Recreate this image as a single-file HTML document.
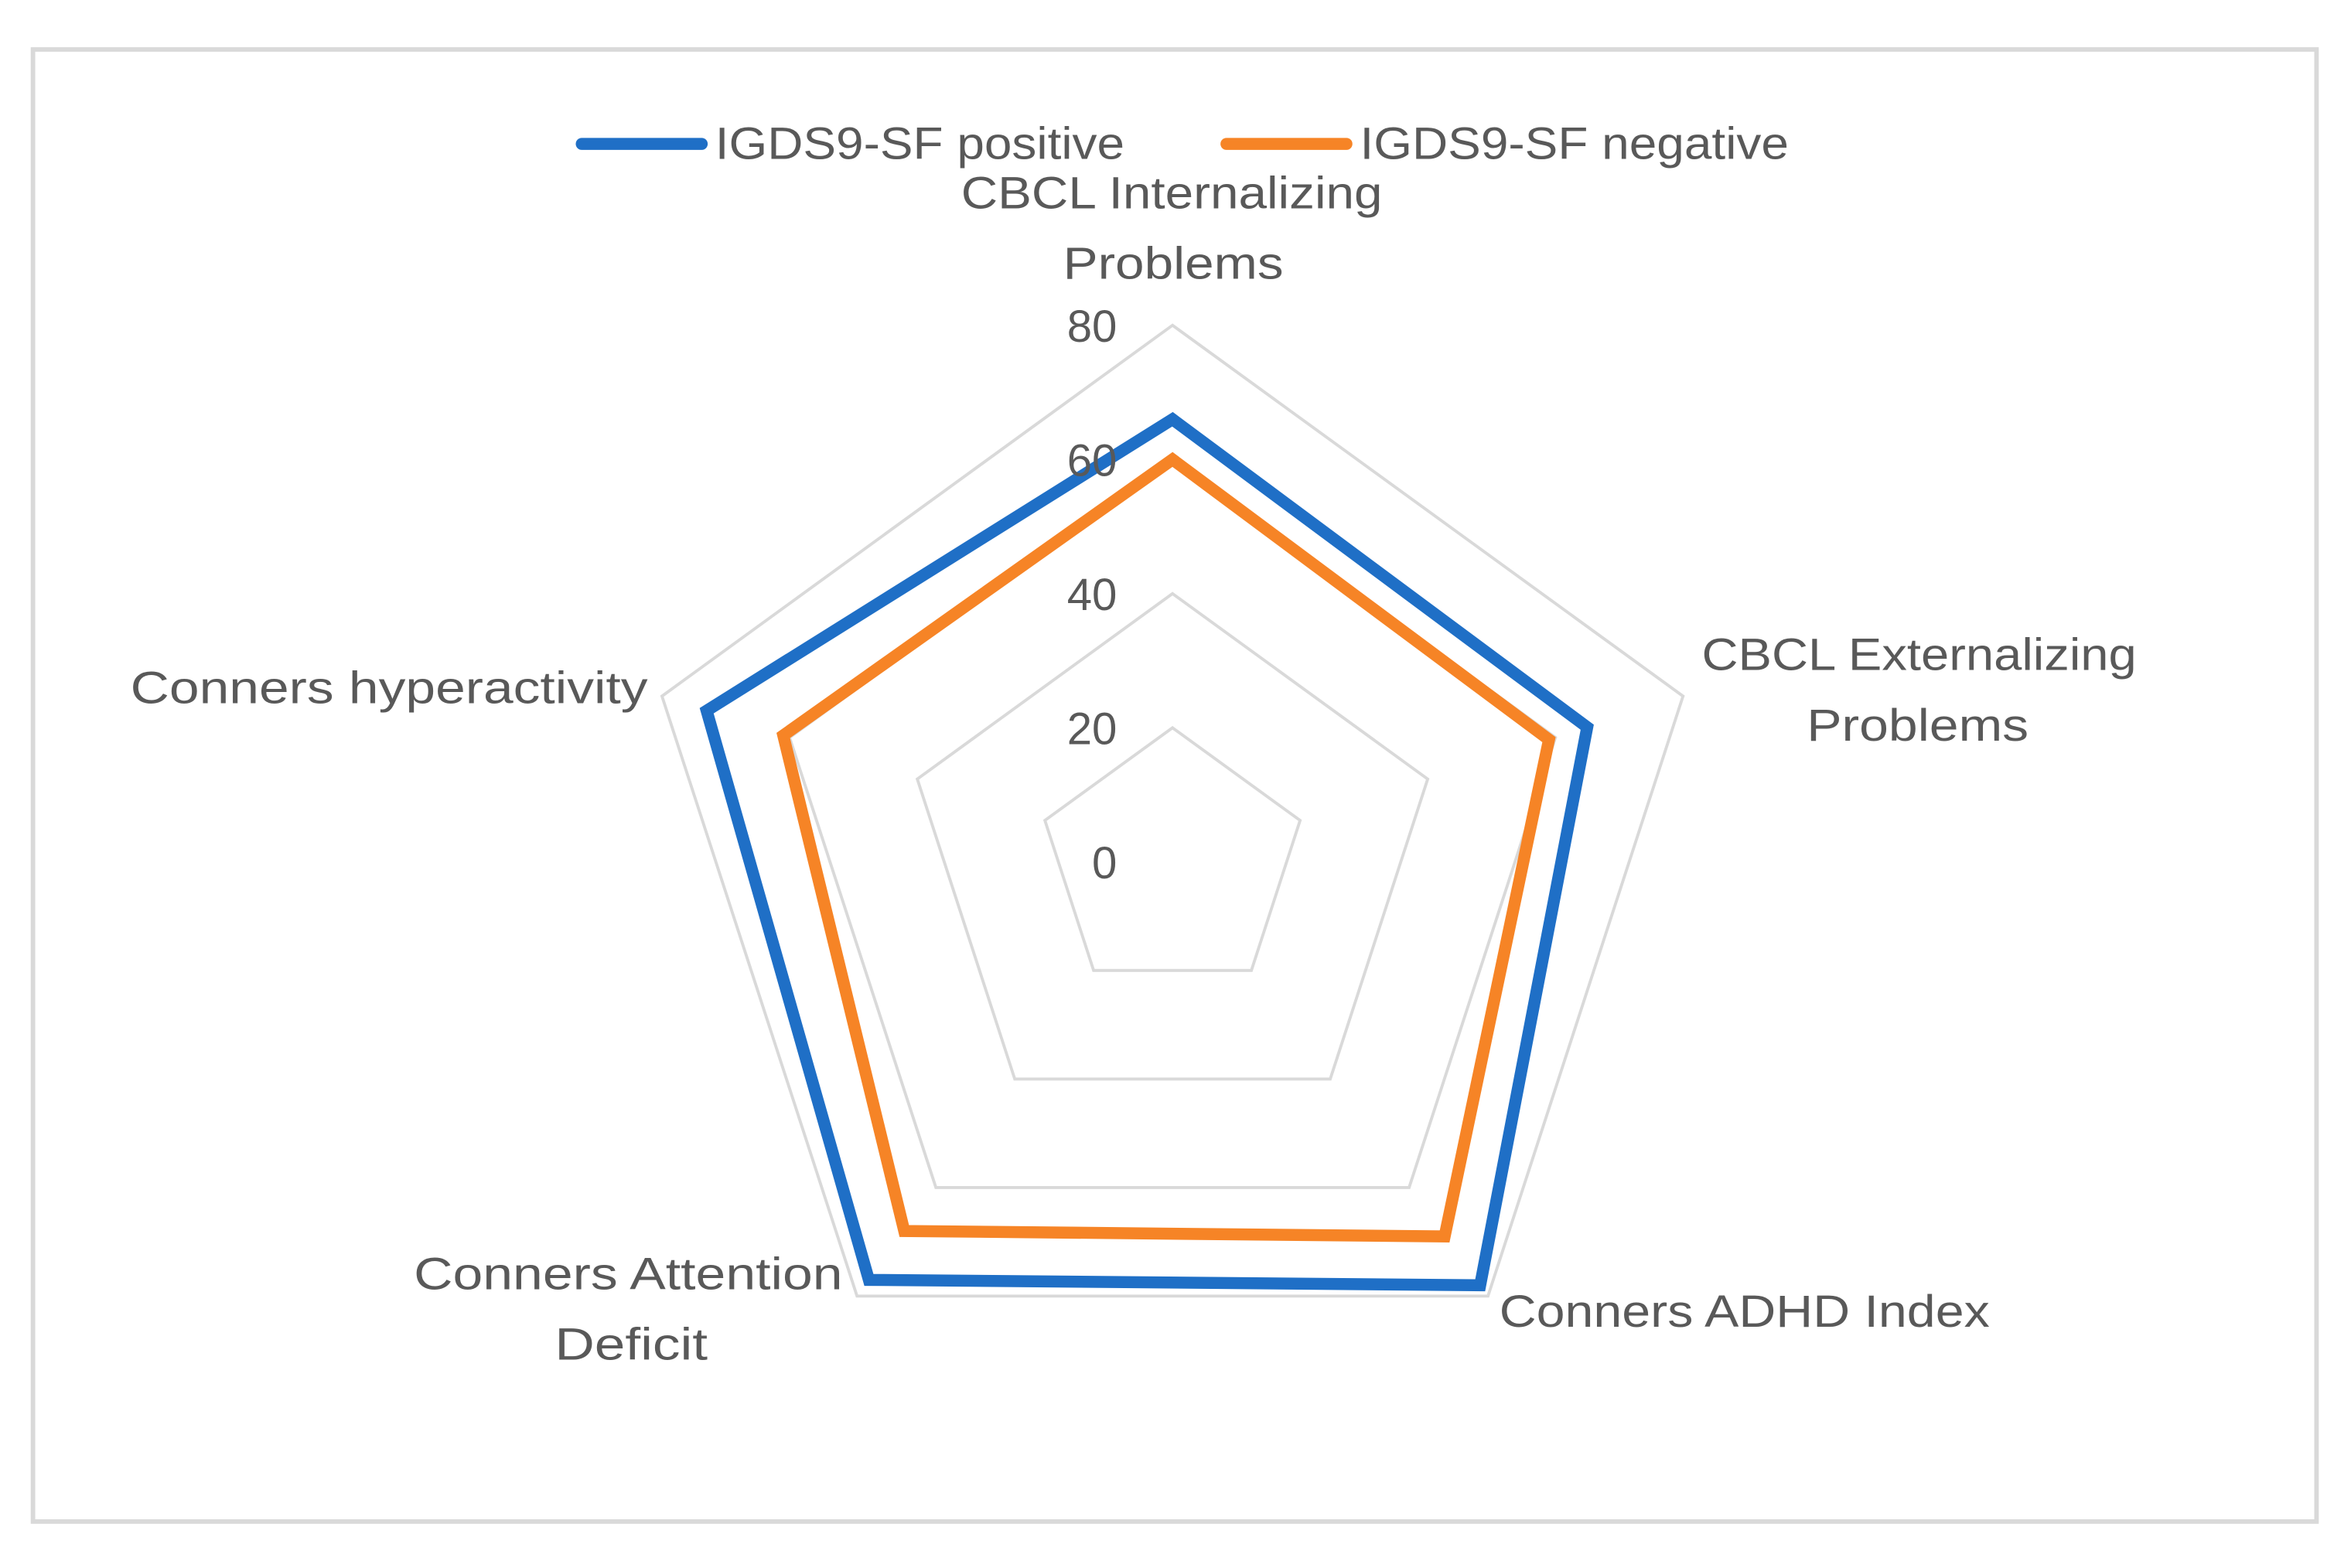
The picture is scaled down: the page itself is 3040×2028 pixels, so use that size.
<!DOCTYPE html>
<html><head><meta charset="utf-8"><style>
html,body{margin:0;padding:0;background:#fff;}
svg{display:block;}
text{font-family:"Liberation Sans",sans-serif;fill:#595959;font-size:30px;}
</style></head><body>
<svg id="chart" width="3040" height="2028" viewBox="0 0 1568 1046" preserveAspectRatio="none" xmlns="http://www.w3.org/2000/svg">
<rect x="22" y="33" width="1523" height="982" fill="#fff" stroke="#d9d9d9" stroke-width="3"/>
<g>
<line x1="388" y1="96" x2="468" y2="96" stroke="#1f6fc6" stroke-width="8" stroke-linecap="round"/>
<text x="477" y="106" textLength="273" lengthAdjust="spacingAndGlyphs">IGDS9-SF positive</text>
<line x1="818" y1="96" x2="898" y2="96" stroke="#f68426" stroke-width="8" stroke-linecap="round"/>
<text x="907" y="106" textLength="286" lengthAdjust="spacingAndGlyphs">IGDS9-SF negative</text>
</g>
<g id="grid"></g>
<g id="series"></g>
<g id="ticks"></g>
<g>
<text x="641" y="139" textLength="281" lengthAdjust="spacingAndGlyphs">CBCL Internalizing</text>
<text x="709" y="186" textLength="147" lengthAdjust="spacingAndGlyphs">Problems</text>
<text x="1135" y="447" textLength="290" lengthAdjust="spacingAndGlyphs">CBCL Externalizing</text>
<text x="1205" y="494" textLength="148" lengthAdjust="spacingAndGlyphs">Problems</text>
<text x="1000" y="885" textLength="327" lengthAdjust="spacingAndGlyphs">Conners ADHD Index</text>
<text x="276" y="860" textLength="286" lengthAdjust="spacingAndGlyphs">Conners Attention</text>
<text x="370" y="907" textLength="102" lengthAdjust="spacingAndGlyphs">Deficit</text>
<text x="87" y="469" textLength="345" lengthAdjust="spacingAndGlyphs">Conners hyperactivity</text>
</g>
</svg>
<script>
const categories = ["CBCL Internalizing Problems","CBCL Externalizing Problems","Conners ADHD Index","Conners Attention Deficit","Conners hyperactivity"];
const positiveValues = [66, 65, 78, 77, 73];
const negativeValues = [60, 59, 69, 68, 61];
const tickValues = [0, 20, 40, 60, 80];
const tickLabels = ["0","20","40","60","80"];

const NS = "http://www.w3.org/2000/svg";
const cx = 782, cy = 575, R = 358, maxV = 80;
function rScale(v){ return v / maxV * R; }
function angle(i){ return -Math.PI/2 + i * 2*Math.PI/categories.length; }
function pt(i, v){ const r = rScale(v), a = angle(i); return [cx + r*Math.cos(a), cy + r*Math.sin(a)]; }
function poly(vals){ return vals.map((v,i)=>pt(i,v).map(n=>n.toFixed(1)).join(",")).join(" "); }

const grid = document.getElementById("grid");
tickValues.forEach((t)=>{
  if (t === 0) return;
  const p = document.createElementNS(NS,"polygon");
  p.setAttribute("points", poly(categories.map(()=>t)));
  p.setAttribute("fill","none"); p.setAttribute("stroke","#d9d9d9"); p.setAttribute("stroke-width","2");
  
  
  grid.appendChild(p);
});

const series = document.getElementById("series");
[[positiveValues,"#1f6fc6","series-positive"],[negativeValues,"#f68426","series-negative"]].forEach(([vals,col,name])=>{
  const p = document.createElementNS(NS,"polygon");
  p.setAttribute("points", poly(vals));
  p.setAttribute("fill","none"); p.setAttribute("stroke",col); p.setAttribute("stroke-width","8"); p.setAttribute("stroke-linejoin","miter");
  
  
  series.appendChild(p);
});

const ticks = document.getElementById("ticks");
tickValues.forEach((t,i)=>{
  const tx = document.createElementNS(NS,"text");
  tx.setAttribute("x", 745); tx.setAttribute("y", (cy - rScale(t) + 11).toFixed(1));
  tx.setAttribute("text-anchor","end");
  tx.textContent = tickLabels[i];
  
  
  ticks.appendChild(tx);
});
</script>
</body></html>
